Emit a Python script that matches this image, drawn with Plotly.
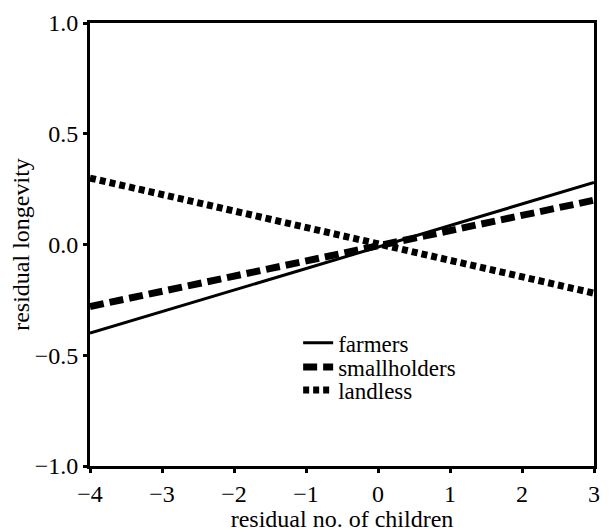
import plotly.graph_objects as go

x_vals = [-4, 3]
farmers = [-0.40, 0.28]
smallholders = [-0.28, 0.20]
landless = [0.30, -0.22]

x_ticks = [-4, -3, -2, -1, 0, 1, 2, 3]
y_ticks = [-1.0, -0.5, 0.0, 0.5, 1.0]

font_family = "Liberation Serif"

fig = go.Figure()
fig.add_trace(go.Scatter(x=x_vals, y=farmers, mode="lines", name="farmers", legend="legend",
                         line=dict(color="black", width=3, dash="solid")))
fig.add_trace(go.Scatter(x=x_vals, y=smallholders, mode="lines", name="smallholders", legend="legend2",
                         line=dict(color="black", width=7, dash="14px,6px")))
fig.add_trace(go.Scatter(x=x_vals, y=landless, mode="lines", name="landless", legend="legend3",
                         line=dict(color="black", width=7, dash="6px,4px")))

axis_common = dict(showline=True, linecolor="black", linewidth=3, mirror=True,
                   ticks="outside", ticklen=4, tickwidth=3, tickcolor="black",
                   showgrid=False, zeroline=False, automargin=False,
                   tickfont=dict(family=font_family, size=24, color="black"))

def leg(yc):
    return dict(x=0.413, y=yc, xanchor="left", yanchor="middle",
                bgcolor="rgba(0,0,0,0)", borderwidth=0,
                font=dict(family=font_family, size=23, color="black"),
                tracegroupgap=0, itemwidth=30)

fig.update_layout(
    width=602, height=524,
    margin=dict(l=82, r=16, t=15, b=66),
    plot_bgcolor="white", paper_bgcolor="white",
    font=dict(family=font_family, color="black"),
    xaxis=dict(range=[-4, 3], tickvals=x_ticks,
               title=dict(text="residual no. of children", font=dict(family=font_family, size=24), standoff=2),
               **axis_common),
    yaxis=dict(range=[-1.0, 1.0], tickvals=y_ticks, tickformat=".1f",
               title=dict(text="residual longevity", font=dict(family=font_family, size=24), standoff=6),
               **axis_common),
    legend=leg(0.278),
    legend2=leg(0.2235),
    legend3=leg(0.1716),
    showlegend=True,
)

fig.write_html("out.html")
